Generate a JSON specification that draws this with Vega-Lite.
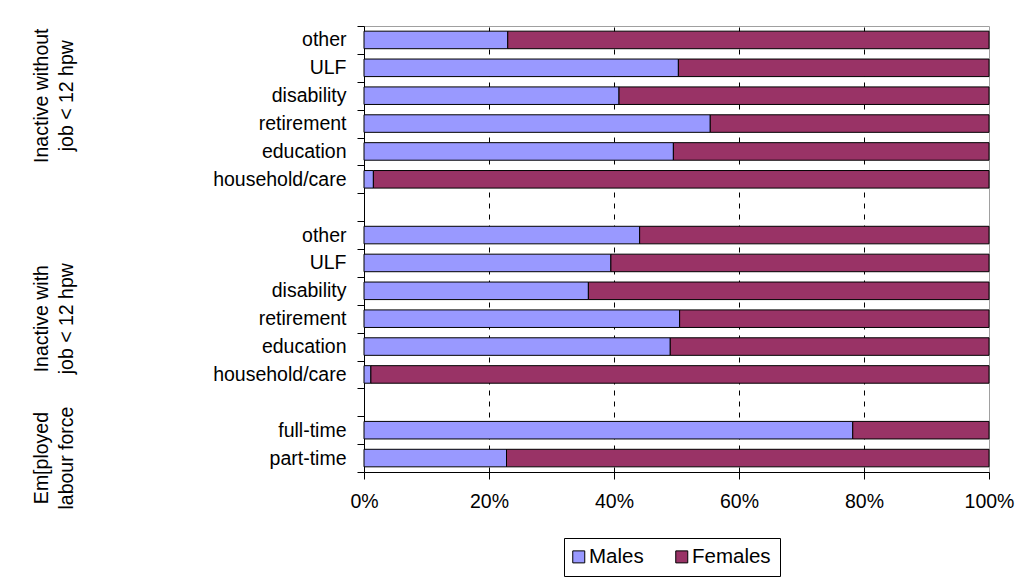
{
  "$schema": "https://vega.github.io/schema/vega-lite/v6.json",
  "padding": {"left": 5, "top": 15, "right": 5, "bottom": 2},
  "background": "white",
  "bounds": "flush",
  "spacing": 286,
  "config": {"font": "Liberation Sans"},
  "resolve": {"legend": {"color": "independent"}},
  "datasets": {
    "bars": [
      {"row": "1|other", "sex": "Males", "pct": 23.0},
      {"row": "1|other", "sex": "Females", "pct": 77.0},
      {"row": "1|ULF", "sex": "Males", "pct": 50.3},
      {"row": "1|ULF", "sex": "Females", "pct": 49.7},
      {"row": "1|disability", "sex": "Males", "pct": 40.8},
      {"row": "1|disability", "sex": "Females", "pct": 59.2},
      {"row": "1|retirement", "sex": "Males", "pct": 55.4},
      {"row": "1|retirement", "sex": "Females", "pct": 44.6},
      {"row": "1|education", "sex": "Males", "pct": 49.5},
      {"row": "1|education", "sex": "Females", "pct": 50.5},
      {"row": "1|household/care", "sex": "Males", "pct": 1.5},
      {"row": "1|household/care", "sex": "Females", "pct": 98.5},
      {"row": "2|other", "sex": "Males", "pct": 44.1},
      {"row": "2|other", "sex": "Females", "pct": 55.9},
      {"row": "2|ULF", "sex": "Males", "pct": 39.5},
      {"row": "2|ULF", "sex": "Females", "pct": 60.5},
      {"row": "2|disability", "sex": "Males", "pct": 35.9},
      {"row": "2|disability", "sex": "Females", "pct": 64.1},
      {"row": "2|retirement", "sex": "Males", "pct": 50.5},
      {"row": "2|retirement", "sex": "Females", "pct": 49.5},
      {"row": "2|education", "sex": "Males", "pct": 49.0},
      {"row": "2|education", "sex": "Females", "pct": 51.0},
      {"row": "2|household/care", "sex": "Males", "pct": 1.1},
      {"row": "2|household/care", "sex": "Females", "pct": 98.9},
      {"row": "3|full-time", "sex": "Males", "pct": 78.2},
      {"row": "3|full-time", "sex": "Females", "pct": 21.8},
      {"row": "3|part-time", "sex": "Males", "pct": 22.8},
      {"row": "3|part-time", "sex": "Females", "pct": 77.2}
    ],
    "groups": [
      {"g": 1, "anchor": "1|disability", "label": "Inactive without\njob < 12 hpw"},
      {"g": 2, "anchor": "2|retirement", "label": "Inactive with\njob < 12 hpw"},
      {"g": 3, "anchor": "3|part-time", "label": "Em[ployed\nlabour force"}
    ]
  },
  "hconcat": [
    {
      "width": 72,
      "height": 446,
      "view": {"stroke": "transparent"},
      "data": {"name": "groups"},
      "encoding": {
        "text": {"field": "label", "type": "nominal"}
      },
      "layer": [
        {
          "transform": [{"filter": "datum.g == 1"}],
          "mark": {"type": "text", "angle": 270, "lineBreak": "\n", "lineHeight": 24.5, "fontSize": 19.5, "align": "center", "baseline": "middle", "color": "black", "font": "Liberation Sans"},
          "encoding": {
            "y": {"field": "anchor", "type": "nominal", "bandPosition": 0.67, "axis": null,
              "scale": {"domain": ["1|other", "1|ULF", "1|disability", "1|retirement", "1|education", "1|household/care", "g1|", "2|other", "2|ULF", "2|disability", "2|retirement", "2|education", "2|household/care", "g2|", "3|full-time", "3|part-time"], "paddingInner": 0, "paddingOuter": 0}}
          }
        },
        {
          "transform": [{"filter": "datum.g == 2"}],
          "mark": {"type": "text", "angle": 270, "lineBreak": "\n", "lineHeight": 24.5, "fontSize": 19.5, "align": "center", "baseline": "middle", "color": "black", "font": "Liberation Sans"},
          "encoding": {
            "y": {"field": "anchor", "type": "nominal", "bandPosition": 0.26, "axis": null}
          }
        },
        {
          "transform": [{"filter": "datum.g == 3"}],
          "mark": {"type": "text", "angle": 270, "lineBreak": "\n", "lineHeight": 24.5, "fontSize": 19.5, "align": "center", "baseline": "middle", "color": "black", "font": "Liberation Sans"},
          "encoding": {
            "y": {"field": "anchor", "type": "nominal", "bandPosition": 0.28, "axis": null}
          }
        }
      ]
    },
    {
      "width": 625,
      "height": 446,
      "view": {"stroke": "#a0a0a0"},
      "data": {"name": "bars"},
      "mark": {"type": "bar", "height": {"band": 0.63}, "stroke": "black", "strokeWidth": 1},
      "encoding": {
        "y": {
          "field": "row", "type": "nominal",
          "scale": {"domain": ["1|other", "1|ULF", "1|disability", "1|retirement", "1|education", "1|household/care", "g1|", "2|other", "2|ULF", "2|disability", "2|retirement", "2|education", "2|household/care", "g2|", "3|full-time", "3|part-time"], "paddingInner": 0, "paddingOuter": 0},
          "axis": {"title": null, "labelExpr": "split(datum.value, '|')[1]", "tickBand": "extent", "tickSize": 7, "tickColor": "black", "domainColor": "black", "labelFontSize": 19.5, "labelColor": "black", "labelFont": "Liberation Sans", "labelPadding": 11, "grid": false, "labelLimit": 300}
        },
        "x": {
          "field": "pct", "type": "quantitative", "stack": "normalize",
          "scale": {"domain": [0, 1], "nice": false},
          "axis": {"title": null, "values": [0, 0.2, 0.4, 0.6, 0.8, 1], "format": ".0%", "labelFlush": false, "tickSize": 7, "tickColor": "black", "domainColor": "black", "labelFontSize": 19.5, "labelColor": "black", "labelFont": "Liberation Sans", "labelPadding": 13, "grid": true, "gridColor": "black", "gridDash": [5, 6], "gridOpacity": {"condition": {"test": "datum.value <= 0 || datum.value >= 1", "value": 0}, "value": 1}}
        },
        "order": {"field": "sex", "type": "nominal", "sort": "descending"},
        "color": {
          "field": "sex", "type": "nominal", "sort": ["Males", "Females"],
          "scale": {"domain": ["Males", "Females"], "range": ["#9999FF", "#993366"]},
          "legend": {"title": null, "orient": "none", "legendX": 200, "legendY": 512, "direction": "horizontal", "strokeColor": "black", "fillColor": "white", "padding": 8.5, "symbolType": "square", "symbolSize": 144, "symbolOffset": -4, "symbolStrokeColor": "black", "symbolStrokeWidth": 1, "symbolOpacity": 1, "labelFontSize": 20.5, "labelColor": "black", "labelFont": "Liberation Sans", "labelOffset": 0, "columnPadding": 29}
        }
      }
    }
  ]
}
